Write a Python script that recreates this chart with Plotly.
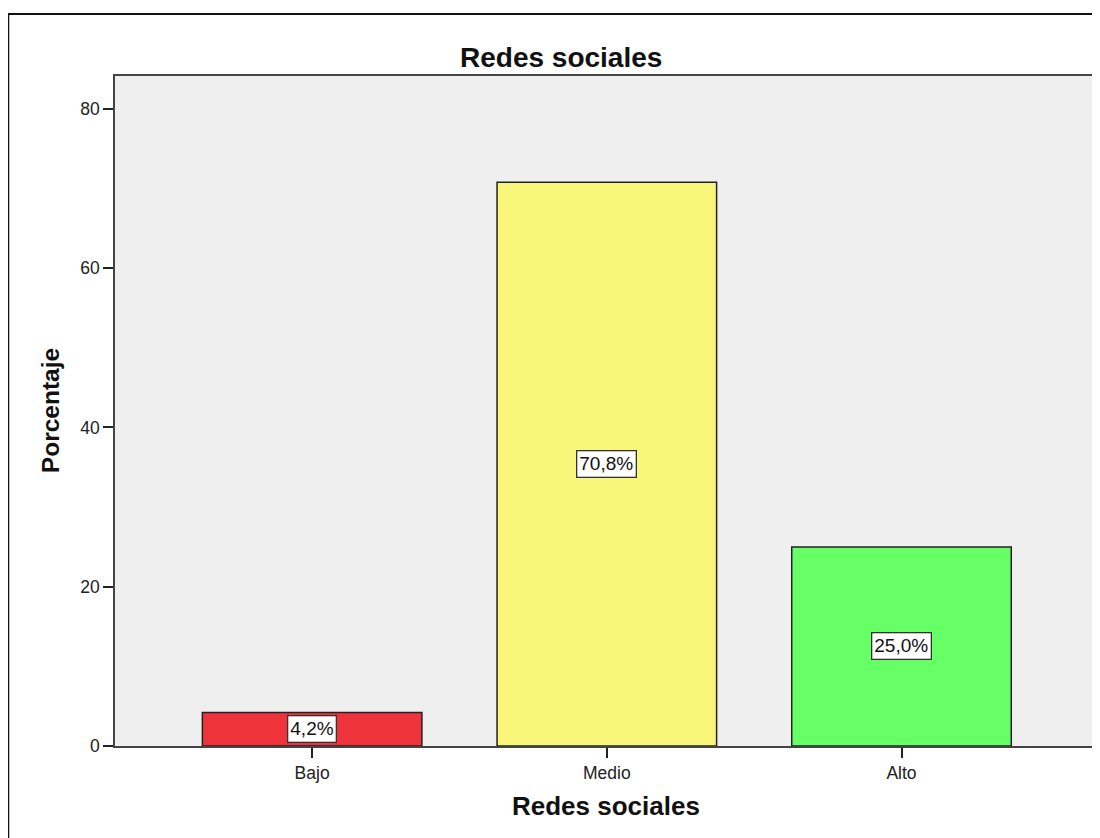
import plotly.graph_objects as go

categories = ["Bajo", "Medio", "Alto"]
values = [4.2, 70.8, 25.0]
value_labels = ["4,2%", "70,8%", "25,0%"]
colors = ["#EE333B", "#F9F77A", "#66FF66"]
y_ticks = [0, 20, 40, 60, 80]

FONT = "Liberation Sans, Arial, sans-serif"

fig = go.Figure()
fig.add_trace(go.Bar(
    x=categories, y=values, width=0.745,
    marker=dict(color=colors, line=dict(color="#222222", width=1.5)),
    hoverinfo="skip", showlegend=False,
))

for c, v, t in zip(categories, values, value_labels):
    fig.add_annotation(
        x=c, y=v / 2, xref="x", yref="y", text=t, showarrow=False,
        font=dict(family=FONT, size=19, color="#111111"),
        bgcolor="white", bordercolor="#333333", borderwidth=1.3, borderpad=2,
    )

# chart title and axis titles
fig.add_annotation(x=0.4547, y=1.028, xref="paper", yref="paper", text="<b>Redes sociales</b>",
                   showarrow=False, font=dict(family=FONT, size=28, color="#111111"),
                   xanchor="center", yanchor="middle")
fig.add_annotation(x=0.5, y=-0.0896, xref="paper", yref="paper", text="<b>Redes sociales</b>",
                   showarrow=False, font=dict(family=FONT, size=26, color="#111111"),
                   xanchor="center", yanchor="middle")
fig.add_annotation(x=-0.0661, y=0.5, xref="paper", yref="paper", text="<b>Porcentaje</b>",
                   showarrow=False, textangle=-90, font=dict(family=FONT, size=24.5, color="#111111"),
                   xanchor="center", yanchor="middle")

# outer frame (top and left visible)
fig.add_shape(type="rect", xref="paper", yref="paper", x0=-0.1088, x1=1.3, y0=-0.5, y1=1.0925,
              line=dict(color="#111111", width=2), layer="below")

fig.update_layout(
    width=1100, height=838,
    margin=dict(l=107, r=10, t=68, b=100),
    paper_bgcolor="white", plot_bgcolor="#EFEFEF",
    font=dict(family=FONT, size=17.5, color="#222222"),
)
fig.update_xaxes(
    type="category", range=[-0.669, 2.66], showgrid=False, zeroline=False,
    showline=True, linecolor="#444444", linewidth=1.5, mirror=True,
    ticks="outside", ticklen=10, tickcolor="#222222", tickwidth=1.5,
    tickfont=dict(family=FONT, size=17.5, color="#222222"),
)
fig.update_yaxes(
    range=[0, 84.14], tickvals=y_ticks, showgrid=False, zeroline=False,
    showline=True, linecolor="#444444", linewidth=1.5, mirror=True,
    ticks="outside", ticklen=10, tickcolor="#222222", tickwidth=1.5,
    tickfont=dict(family=FONT, size=17.5, color="#222222"),
)

fig.write_html("out.html")
